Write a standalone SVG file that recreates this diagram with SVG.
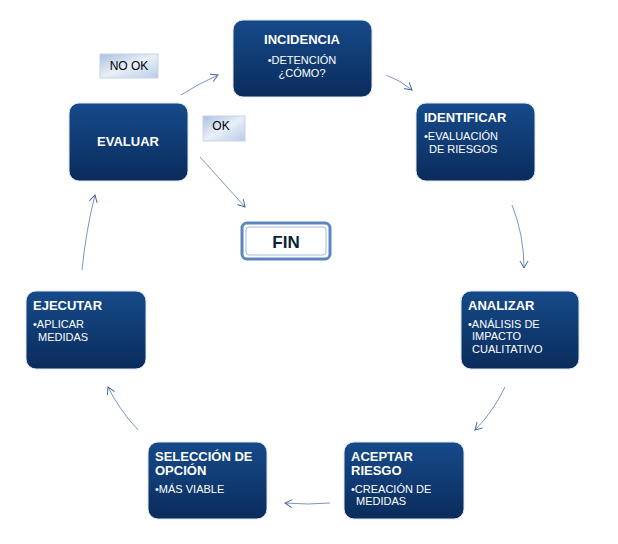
<svg xmlns="http://www.w3.org/2000/svg" width="618" height="544" viewBox="0 0 618 544">
<defs>
<linearGradient id="g" x1="0" y1="0" x2="0" y2="1"><stop offset="0" stop-color="#164a8a"/><stop offset="1" stop-color="#0a2c5c"/></linearGradient>
<linearGradient id="lg" x1="0" y1="0" x2="1" y2="1"><stop offset="0" stop-color="#a9c0e0"/><stop offset="0.5" stop-color="#e8eff8"/><stop offset="1" stop-color="#b8cce6"/></linearGradient>
<marker id="a" markerWidth="10" markerHeight="10" refX="8" refY="5" orient="auto" markerUnits="userSpaceOnUse"><path d="M1,1 L8,5 L1,9" fill="none" stroke="#4a6a9a" stroke-width="1"/></marker>
</defs>
<style>
.n{fill:url(#g);stroke:#dfe6f0;stroke-width:1}
.t{font-family:"Liberation Sans",Arial,sans-serif;fill:#fff;font-weight:bold;font-size:13px}
.s{font-family:"Liberation Sans",Arial,sans-serif;fill:#fff;font-size:11px}
.l{font-family:"Liberation Sans",Arial,sans-serif;fill:#000;font-size:12px}
.c{fill:none;stroke:#5a7aa8;stroke-width:0.8;marker-end:url(#a)}
</style>
<rect width="618" height="544" fill="#fff"/>
<g id="connectors">
<path class="c" d="M181,95 Q198,84 218,75"/>
<path class="c" d="M386,75 Q400,80 412,90"/>
<path class="c" d="M512,205 Q524,235 524,268"/>
<path class="c" d="M505,387 Q493,412 475,430"/>
<path class="c" d="M330,503 Q308,505 285,503"/>
<path class="c" d="M138,430 Q118,408 108,387"/>
<path class="c" d="M82,270 Q86,230 95,195"/>
<path class="c" d="M200,157 L245,207"/>
</g>
<g id="nook"><rect x="100" y="54" width="58" height="24" fill="url(#lg)" stroke="#c8d4e4"/><text class="l" x="129" y="70" text-anchor="middle">NO OK</text></g>
<g id="ok"><rect x="203" y="116" width="42" height="25" fill="url(#lg)" stroke="#c8d4e4"/><text class="l" x="221" y="130" text-anchor="middle">OK</text></g>
<g id="incidencia"><rect class="n" x="233" y="20" width="139" height="77" rx="10"/><text class="t" x="302" y="44" text-anchor="middle" font-size="17">INCIDENCIA</text><text class="s" x="302" y="64" text-anchor="middle">•DETENCIÓN</text><text class="s" x="302" y="77" text-anchor="middle">¿CÓMO?</text></g>
<g id="identificar"><rect class="n" x="416" y="103" width="119" height="78" rx="10"/><text class="t" x="424" y="122">IDENTIFICAR</text><text class="s" x="424" y="140">•EVALUACIÓN</text><text class="s" x="429" y="153">DE RIESGOS</text></g>
<g id="evaluar"><rect class="n" x="69" y="103" width="119" height="78" rx="10"/><text class="t" x="128" y="146" text-anchor="middle">EVALUAR</text></g>
<g id="fin"><rect x="242" y="223" width="88" height="36" rx="5" fill="#fff" stroke="#5b86c0" stroke-width="3"/><rect x="246" y="227" width="80" height="28" rx="3" fill="none" stroke="#9fbbe0" stroke-width="1"/><text x="286" y="248" text-anchor="middle" font-family="Liberation Sans,Arial,sans-serif" font-weight="bold" font-size="17" fill="#0d1f3a">FIN</text></g>
<g id="analizar"><rect class="n" x="461" y="291" width="118" height="78" rx="10"/><text class="t" x="468" y="310">ANALIZAR</text><text class="s" x="468" y="328">•ANÁLISIS DE</text><text class="s" x="472" y="340">IMPACTO</text><text class="s" x="472" y="353">CUALITATIVO</text></g>
<g id="ejecutar"><rect class="n" x="26" y="291" width="120" height="78" rx="10"/><text class="t" x="33" y="310">EJECUTAR</text><text class="s" x="33" y="328">•APLICAR</text><text class="s" x="38" y="341">MEDIDAS</text></g>
<g id="seleccion"><rect class="n" x="148" y="442" width="119" height="77" rx="10"/><text class="t" x="155" y="461">SELECCIÓN DE</text><text class="t" x="155" y="475">OPCIÓN</text><text class="s" x="155" y="493">•MÁS VIABLE</text></g>
<g id="aceptar"><rect class="n" x="344" y="442" width="120" height="77" rx="10"/><text class="t" x="351" y="461">ACEPTAR</text><text class="t" x="351" y="475">RIESGO</text><text class="s" x="351" y="493">•CREACIÓN DE</text><text class="s" x="356" y="505">MEDIDAS</text></g>
</svg>
